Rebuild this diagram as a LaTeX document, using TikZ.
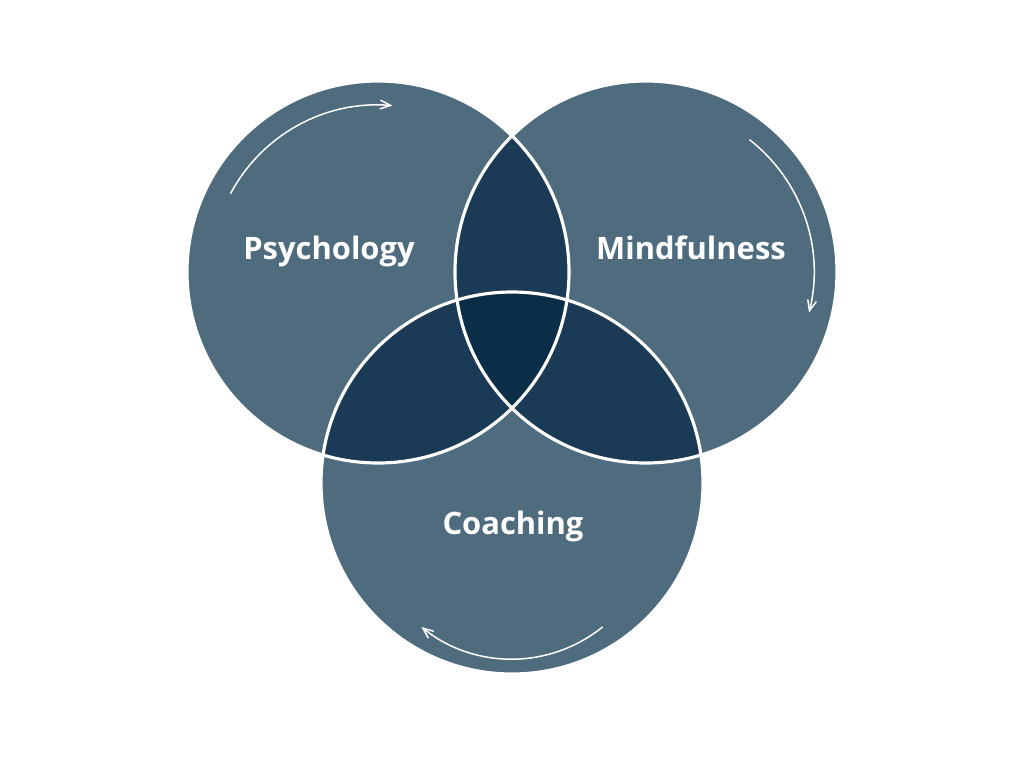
\documentclass[tikz,border=0pt]{standalone}
\usepackage{fontspec}
\setmainfont{Open Sans}
\usetikzlibrary{arrows.meta}
\definecolor{ringblue}{HTML}{4F6B7E}
\definecolor{pairblue}{HTML}{1A3A55}
\definecolor{coreblue}{HTML}{0A2E48}

\begin{document}
\begin{tikzpicture}[x=0.02cm, y=-0.02cm,
    title/.style={text=white, font=\bfseries\fontsize{17.6}{20}\selectfont, anchor=base},
    ring/.style={draw=white, line width=1.8pt},
    flow/.style={white, line width=0.85pt, -{Straight Barb[length=6pt,width=5pt]}}]
    \useasboundingbox (0,0) rectangle (1024,768);
    \def\rad{191}
    % Centres
    \coordinate (psy) at (378,272);
    \coordinate (mind) at (646,272);
    \coordinate (coach) at (512,483);
    % Circles
    \foreach \c in {psy,mind,coach} {
        \fill[ringblue] (\c) circle (\rad);
    }
    % Overlaps of two
    \begin{scope}
        \clip (psy) circle (\rad);
        \fill[pairblue] (mind) circle (\rad);
        \fill[pairblue] (coach) circle (\rad);
    \end{scope}
    \begin{scope}
        \clip (mind) circle (\rad);
        \fill[pairblue] (coach) circle (\rad);
    \end{scope}
    % Overlap of all three
    \begin{scope}
        \clip (psy) circle (\rad);
        \clip (mind) circle (\rad);
        \fill[coreblue] (coach) circle (\rad);
    \end{scope}
    % Outlines
    \foreach \c in {psy,mind,coach} {
        \draw[ring] (\c) circle (\rad);
    }
    % Labels
    \node[title] (psylabel) at (329,259) {Psychology};
    \node[title] (mindlabel) at (691,259) {Mindfulness};
    \node[title] (coachlabel) at (513,534) {Coaching};
    % Turning arrows
    \draw[flow] ([shift={(-152:167)}]psy) arc[start angle=-152, end angle=-85, radius=167];
    \draw[flow] ([shift={(-52:168)}]mind) arc[start angle=-52, end angle=14, radius=168];
    \coordinate (turn) at (512,515);
    \draw[flow] ([shift={(51:144)}]turn) arc[start angle=51, end angle=129, radius=144];
\end{tikzpicture}
\end{document}
